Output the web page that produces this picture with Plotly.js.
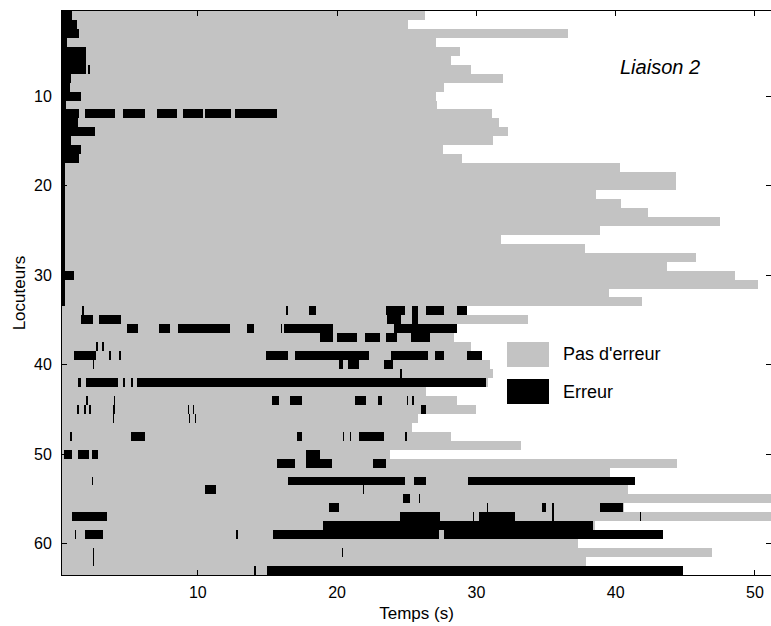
<!DOCTYPE html>
<html>
<head>
<meta charset="utf-8">
<script src="https://cdn.plot.ly/plotly-3.0.1.min.js"></script>
<style>
  html, body { margin: 0; padding: 0; background: #fff; }
  #chart { width: 771px; height: 626px; }
</style>
</head>
<body>
<div id="chart"></div>
<script>
// Speakers (rows) 1..63
const locuteurs = [1,2,3,4,5,6,7,8,9,10,11,12,13,14,15,16,17,18,19,20,21,22,23,24,25,26,27,28,29,30,
  31,32,33,34,35,36,37,38,39,40,41,42,43,44,45,46,47,48,49,50,51,52,53,54,55,56,57,58,59,60,61,62,63];

// End of each speaker's utterance (s) -> grey "Pas d'erreur" bar length
const finParole = [26.3,25.1,36.6,27.1,28.8,28.2,29.6,31.9,27.7,27.1,
  27.2,31.1,31.6,32.3,31.2,27.6,29.0,40.3,44.3,44.3,
  38.6,40.4,42.3,47.5,38.9,31.8,37.8,45.8,43.7,48.6,
  50.2,39.5,41.9,29.3,33.7,28.6,28.4,29.6,30.4,31.0,
  31.2,30.8,26.4,28.6,30.0,25.8,25.4,28.2,33.2,23.8,
  44.4,39.6,41.4,40.9,52.0,40.6,52.0,38.5,43.4,37.3,
  46.9,37.9,44.8];

// Error segments: speaker, start (s), end (s)
const errLoc = [
  1, 2, 3, 4, 5, 6, 7, 7, 8, 9, 10, 11,
  12, 12, 12, 12, 12, 12, 12,
  13, 14, 15, 16, 17, 18, 19, 20, 21, 22, 23, 24, 25, 26, 27, 28, 29, 30, 31, 32, 33,
  34, 34, 34, 34, 34, 34, 34,
  35, 35, 35, 35,
  36, 36, 36, 36, 36, 36, 36,
  37, 37, 37, 37, 37,
  38, 38,
  39, 39, 39, 39, 39, 39, 39, 39,
  40, 40, 40, 40,
  41,
  42, 42, 42, 42, 42,
  44, 44, 44, 44, 44, 44, 44, 44,
  45, 45, 45, 45, 45, 45, 45,
  46, 46, 46,
  48, 48, 48, 48, 48, 48, 48,
  50, 50, 50, 50,
  51, 51, 51,
  53, 53, 53, 53,
  54, 54,
  55, 55,
  56, 56, 56, 56, 56,
  57, 57, 57, 57, 57, 57,
  58,
  59, 59, 59, 59, 59,
  61, 61,
  62,
  63, 63
];
const errDebut = [
  0.25, 0.25, 0.25, 0.25, 0.25, 0.25, 0.25, 2.1, 0.25, 0.25, 0.25, 0.25,
  0.25, 1.87, 4.62, 7.09, 8.93, 10.49, 12.64,
  0.25, 0.25, 0.25, 0.25, 0.25, 0.25, 0.25, 0.25, 0.25, 0.25, 0.25, 0.25, 0.25, 0.25, 0.25, 0.25, 0.25, 0.25, 0.25, 0.25, 0.25,
  1.65, 16.3, 18.0, 23.5, 25.4, 26.4, 28.6,
  1.6, 2.9, 23.6, 25.4,
  4.9, 7.2, 8.6, 13.5, 15.95, 16.2, 24.1,
  18.75, 20.0, 22.0, 23.5, 25.3,
  2.7, 3.15,
  1.1, 3.65, 4.35, 14.9, 17.0, 23.9, 27.0, 29.3,
  2.45, 20.1, 20.8, 23.4,
  24.55,
  1.4, 2.0, 4.6, 5.2, 5.6,
  2.0, 3.95, 15.3, 16.6, 21.3, 22.9, 25.0, 25.4,
  1.3, 1.85, 2.2, 3.9, 9.3, 9.65, 26.0,
  3.9, 9.35, 9.8,
  0.85, 5.2, 17.1, 20.4, 20.9, 21.6, 24.9,
  0.4, 1.4, 2.4, 17.8,
  15.7, 17.8, 22.6,
  2.4, 16.5, 25.5, 29.4,
  10.5, 21.85,
  24.7, 25.85,
  19.4, 30.75, 34.7, 35.45, 38.9,
  1.0, 24.5, 29.75, 30.2, 35.4, 41.75,
  19.0,
  1.15, 1.9, 12.75, 15.4, 27.7,
  2.45, 20.35,
  2.45,
  14.0, 15.0
];
const errFin = [
  1.0, 1.3, 1.5, 0.6, 2.0, 2.0, 2.0, 2.25, 0.9, 0.8, 1.6, 0.55,
  1.5, 4.02, 6.22, 8.5, 10.36, 12.35, 15.68,
  1.4, 2.6, 0.9, 1.6, 1.5, 0.45, 0.45, 0.45, 0.45, 0.45, 0.45, 0.45, 0.45, 0.45, 0.45, 0.45, 0.45, 1.1, 0.45, 0.45, 0.45,
  1.8, 16.5, 18.5, 24.9, 25.8, 27.7, 29.3,
  2.5, 4.5, 24.6, 25.8,
  5.7, 8.0, 12.3, 14.0, 16.05, 19.7, 28.6,
  19.7, 21.4, 23.1, 24.3, 26.7,
  2.8, 3.25,
  2.7, 3.75, 4.45, 16.5, 22.3, 26.5, 27.7, 30.4,
  2.55, 20.4, 21.6, 24.0,
  24.65,
  1.6, 4.3, 4.75, 5.35, 30.7,
  2.15, 4.05, 15.8, 17.5, 22.1, 23.2, 25.1, 25.5,
  1.45, 2.0, 2.35, 4.05, 9.4, 9.75, 26.4,
  4.0, 9.45, 9.9,
  0.95, 6.2, 17.5, 20.5, 21.0, 23.4, 25.0,
  1.0, 2.2, 2.8, 18.8,
  17.0, 19.6, 23.5,
  2.5, 24.9, 26.4, 41.4,
  11.3, 21.95,
  25.2, 25.95,
  20.1, 30.85, 35.0, 35.55, 40.5,
  3.5, 27.4, 29.85, 32.8, 35.6, 41.85,
  38.4,
  1.25, 3.2, 12.85, 27.3, 43.4,
  2.55, 20.45,
  2.55,
  14.2, 44.8
];

const xTicks = [10, 20, 30, 40, 50];
const yTicks = [10, 20, 30, 40, 50, 60];

const FONT = 'Liberation Sans, Arial, sans-serif';
const GREY = '#c3c3c3';

const errLen = errDebut.map((d, i) => errFin[i] - d);

const traces = [
  {
    type: 'bar', orientation: 'h', name: "Pas d'erreur",
    y: locuteurs, x: finParole, base: 0, width: 1,
    marker: { color: GREY, line: { width: 0 } },
    hoverinfo: 'skip', showlegend: false
  },
  {
    type: 'bar', orientation: 'h', name: 'Erreur',
    y: errLoc, x: errLen, base: errDebut, width: 1,
    marker: { color: '#000000', line: { width: 0 } },
    hoverinfo: 'skip', showlegend: false
  }
];

// plot area in pixels: x 62..771, y 11..575
const L = 62, T = 11, W = 709, H = 564;
const px = x => (x - L) / W;
const py = y => 1 - (y - T) / H;

const layout = {
  width: 771, height: 626,
  margin: { l: L, r: 0, t: T, b: 626 - T - H },
  paper_bgcolor: '#ffffff', plot_bgcolor: '#ffffff',
  barmode: 'overlay', bargap: 0,
  font: { family: FONT, color: '#000', size: 16 },
  xaxis: {
    range: [0.25, 51.15], tickvals: xTicks, ticks: 'inside', ticklen: 5, tickcolor: '#000',
    showline: true, linecolor: '#000', linewidth: 1, mirror: 'ticks',
    showgrid: false, zeroline: false, fixedrange: true,
    tickfont: { family: FONT, size: 16, color: '#000' },
    ticklabelstandoff: 3,
    title: { text: 'Temps (s)', font: { family: FONT, size: 17, color: '#000' }, standoff: 6 }
  },
  yaxis: {
    range: [63.5, 0.5], tickvals: yTicks, ticks: 'inside', ticklen: 5, tickcolor: '#000',
    showline: true, linecolor: '#000', linewidth: 1, mirror: 'ticks',
    showgrid: false, zeroline: false, fixedrange: true,
    tickfont: { family: FONT, size: 16, color: '#000' },
    ticklabelstandoff: 6,
    title: { text: 'Locuteurs', font: { family: FONT, size: 17, color: '#000' }, standoff: 4 }
  },
  shapes: [
    { type: 'rect', xref: 'paper', yref: 'paper', x0: px(507), x1: px(549), y0: py(342), y1: py(367),
      fillcolor: GREY, line: { width: 0 } },
    { type: 'rect', xref: 'paper', yref: 'paper', x0: px(507), x1: px(549), y0: py(379), y1: py(404),
      fillcolor: '#000000', line: { width: 0 } }
  ],
  annotations: [
    { text: "Pas d'erreur", xref: 'paper', yref: 'paper', x: px(561), y: py(354),
      xanchor: 'left', yanchor: 'middle', showarrow: false, font: { family: FONT, size: 18, color: '#000' } },
    { text: 'Erreur', xref: 'paper', yref: 'paper', x: px(561), y: py(392),
      xanchor: 'left', yanchor: 'middle', showarrow: false, font: { family: FONT, size: 18, color: '#000' } },
    { text: '<i>Liaison 2</i>', xref: 'paper', yref: 'paper', x: px(660), y: py(67),
      xanchor: 'center', yanchor: 'middle', showarrow: false, font: { family: FONT, size: 20, color: '#000' } }
  ]
};

Plotly.newPlot('chart', traces, layout, { staticPlot: true, displayModeBar: false });
</script>
</body>
</html>
